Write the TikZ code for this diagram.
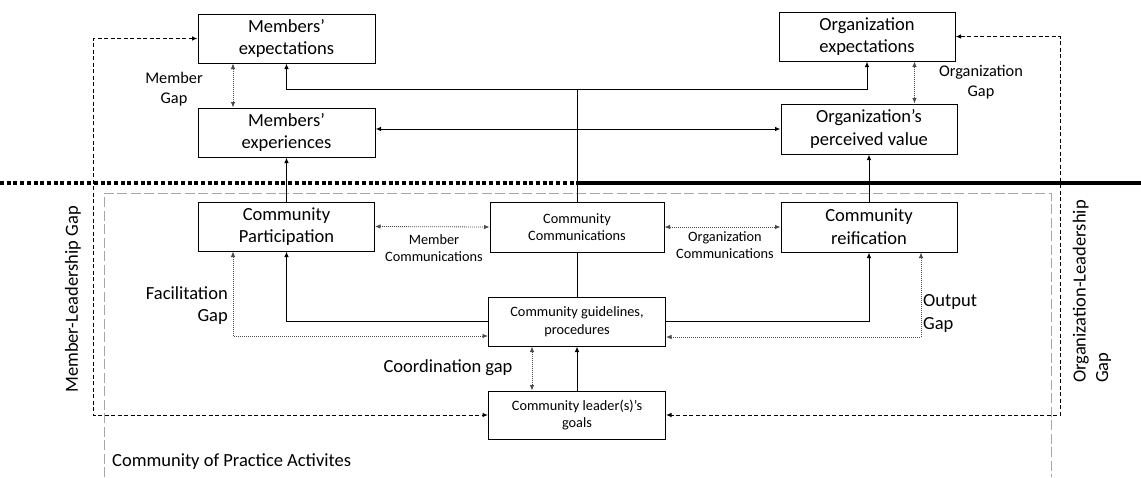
\documentclass[tikz,border=0pt]{standalone}
\usepackage{fontspec}
\setmainfont{Carlito}
\usetikzlibrary{arrows.meta}
\begin{document}
\begin{tikzpicture}[x=1pt,y=-1pt,
  box/.style={draw=black,line width=1pt,inner sep=0pt,align=center,font=\bigtxt},
  bigtxt/.style={font=\bigtxt},
  tip/.tip={Latex[length=5.5pt,width=4.5pt]},
  conn/.style={draw=black,line width=1pt},
  dotconn/.style={draw=black!70,line width=0.8pt,dash pattern=on 1pt off 1pt},
  dashconn/.style={draw=black,line width=1pt,dash pattern=on 4pt off 2.5pt},
  lbl/.style={inner sep=0pt,align=center}
]
\newcommand{\bigtxt}{\fontsize{18.5}{22.6}\selectfont}
\newcommand{\midtxt}{\fontsize{16.3}{20}\selectfont}
\newcommand{\smalltxt}{\fontsize{14.3}{17.4}\selectfont}

\useasboundingbox (0,0) rectangle (1141,477);

% frame of the community-of-practice activities (open at the bottom)
\coordinate (fbl) at (104,477);
\coordinate (ftl) at (104,193);
\coordinate (ftr) at (1051,193);
\coordinate (fbr) at (1051,477);
\draw[black!35,line width=1pt,dash pattern=on 10pt off 3.5pt] (fbl) -- (ftl) -- (ftr) -- (fbr);

% boundary between the organisation level and the community level
\coordinate (bl) at (0,183);
\coordinate (bm) at (577,183);
\coordinate (br) at (1141,183);
\draw[line width=4pt,dash pattern=on 4pt off 2.7pt] (bl) -- (bm);
\draw[line width=4pt] (bm) -- (br);

% boxes
\node[box,minimum width=177pt,minimum height=49pt] (mexp) at (286.5,38.5) {Members'\\expectations};
\node[box,minimum width=177pt,minimum height=49pt] (mexr) at (286.5,132.5) {Members'\\experiences};
\node[box,minimum width=176pt,minimum height=49pt] (oexp) at (867,36.5) {Organization\\expectations};
\node[box,minimum width=176pt,minimum height=50pt] (oval) at (869,129) {Organization's\\perceived value};
\node[box,minimum width=176pt,minimum height=49pt] (cpart) at (286.5,226.5) {Community\\Participation};
\node[box,minimum width=174pt,minimum height=50pt,font=\smalltxt] (ccomm) at (577,227) {Community\\Communications};
\node[box,minimum width=176pt,minimum height=50pt] (crei) at (869,227) {Community\\reification};
\node[box,minimum width=177pt,minimum height=49pt,font=\smalltxt] (cguide) at (577,321.5) {Community guidelines,\\procedures};
\node[box,minimum width=177pt,minimum height=48pt,font=\smalltxt] (clead) at (577,415) {Community leader(s)'s\\goals};

% solid connectors
\coordinate (hub) at (577,89);
\draw[conn] (cguide.north) -- (ccomm.south);
\draw[conn] (ccomm.north) -- (hub);
\draw[conn,-tip] (hub) -| (mexp.south);
\draw[conn,-tip] (hub) -| (oexp.south);
\draw[conn,tip-tip] (mexr.east |- oval.west) -- (oval.west);
\draw[conn,-tip] (cpart.north) -- (mexr.south);
\draw[conn,-tip] (crei.north) -- (oval.south);
\draw[conn,-tip] (cguide.west) -| (cpart.south);
\draw[conn,-tip] (cguide.east) -| (crei.south);
\draw[conn,-tip] (clead.north) -- (cguide.south);

% dotted gap connectors
\draw[dotconn,tip-tip] ([xshift=-53.5pt]mexp.south) -- ([xshift=-53.5pt]mexp.south |- mexr.north);
\draw[dotconn,tip-tip] ([xshift=47.5pt]oexp.south) -- ([xshift=47.5pt]oexp.south |- oval.north);
\draw[dotconn,tip-tip] (cpart.east) -- (ccomm.west);
\draw[dotconn,tip-tip] (ccomm.east) -- (crei.west);
\draw[dotconn,tip-tip] ([yshift=-14.5pt]cguide.west) -| ([xshift=-53.5pt]cpart.south);
\draw[dotconn,tip-tip] ([yshift=-15.5pt]cguide.east) -| ([xshift=52pt]crei.south);
\draw[dotconn,tip-tip] ([xshift=-45pt]cguide.south) -- ([xshift=-45pt]cguide.south |- clead.north);

% dashed leadership gap connectors
\coordinate (lcol) at (93,0);
\coordinate (rcol) at (1060,0);
\draw[dashconn,tip-tip] (mexp.west) -- (mexp.west -| lcol) -- (lcol |- clead.west) -- (clead.west);
\draw[dashconn,tip-tip] (oexp.east) -- (oexp.east -| rcol) -- (rcol |- clead.east) -- (clead.east);

% labels
\node[lbl,font=\midtxt] (lmgap) at (174,89) {Member\\Gap};
\node[lbl,font=\midtxt] (logap) at (981,82.5) {Organization\\Gap};
\node[lbl,font=\smalltxt] (lmcomm) at (434,248) {Member\\Communications};
\node[lbl,font=\smalltxt] (locomm) at (725,245) {Organization\\Communications};
\node[lbl,font=\bigtxt,align=right,anchor=east] (lfac) at (228,305.5) {Facilitation\\Gap};
\node[lbl,font=\bigtxt,align=left,anchor=west] (lout) at (923,313.5) {Output\\Gap};
\node[lbl,font=\bigtxt] (lcoord) at (448,368) {Coordination gap};
\node[lbl,font=\bigtxt,anchor=west] (lcop) at (112,462) {Community of Practice Activites};
\node[lbl,font=\bigtxt,rotate=90,anchor=west] (lmlg) at (73,393) {Member-Leadership Gap};
\node[lbl,font=\bigtxt,rotate=90,anchor=west,align=left] (lolg) at (1092,383) {Organization-Leadership\\Gap};
\end{tikzpicture}
\end{document}
